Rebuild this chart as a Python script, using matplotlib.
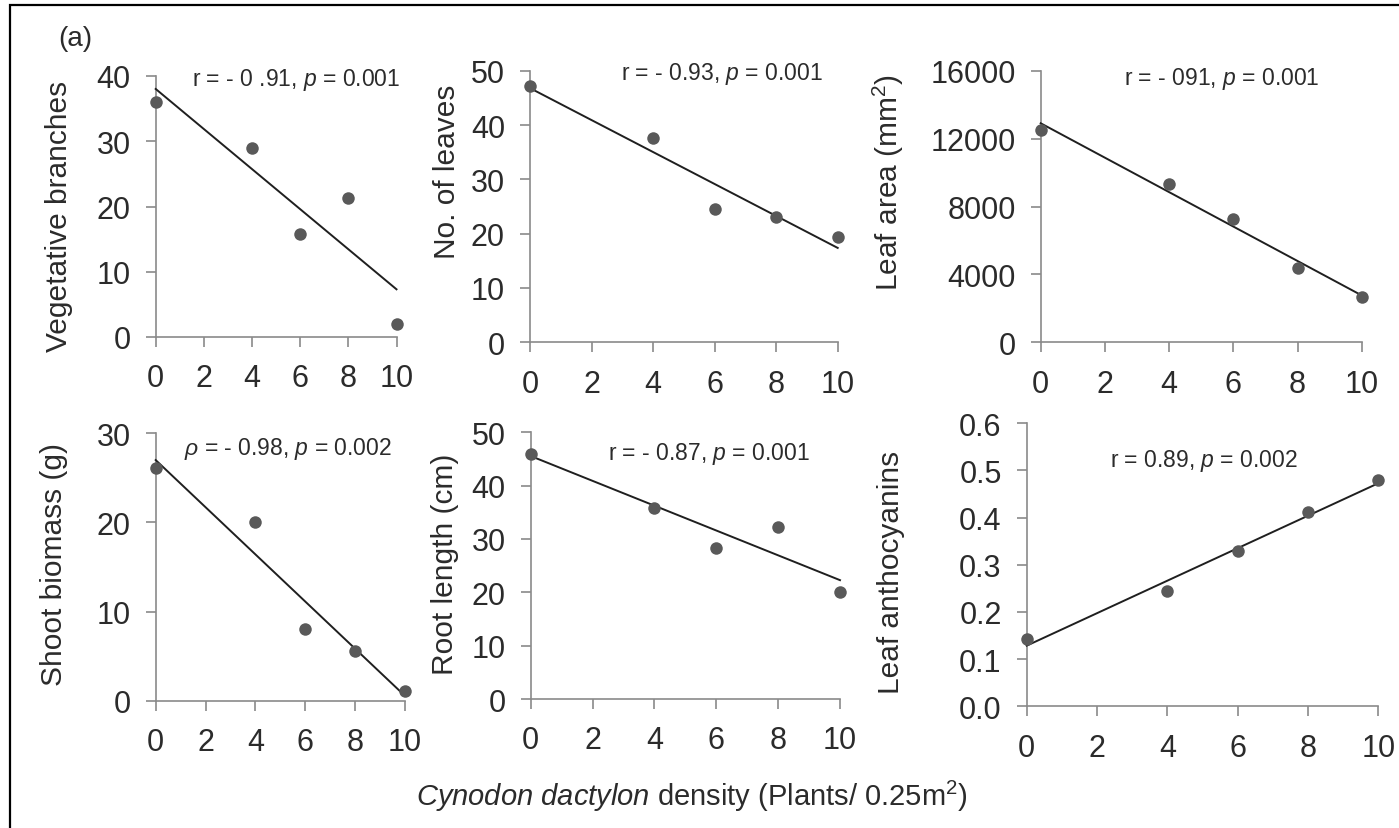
import numpy as np
import matplotlib
matplotlib.use("Agg")
import matplotlib.pyplot as plt
from matplotlib.patches import Rectangle

plt.rcParams['font.family'] = ['Liberation Sans', 'DejaVu Sans']
plt.rcParams['mathtext.fontset'] = 'custom'
plt.rcParams['mathtext.rm'] = 'Liberation Sans'
plt.rcParams['mathtext.it'] = 'Liberation Sans:italic'
plt.rcParams['mathtext.bf'] = 'Liberation Sans:bold'

# ---------------- data ----------------
density = [0, 4, 6, 8, 10]
x_ticks = [0, 2, 4, 6, 8, 10]

veg_branches = [36.0, 29.0, 15.8, 21.3, 2.0]
no_leaves = [47.1, 37.7, 24.5, 23.0, 19.3]
leaf_area = [12525, 9326, 7264, 4359, 2651]
shoot_biomass = [26.1, 20.0, 8.1, 5.6, 1.1]
root_length = [46.0, 35.9, 28.3, 32.3, 20.1]
leaf_anthocyanins = [0.143, 0.244, 0.329, 0.411, 0.480]

ylabels = ["Vegetative branches", "No. of leaves", "Leaf area (mm$^2$)",
           "Shoot biomass (g)", "Root length (cm)", "Leaf anthocyanins"]
stats = [r"r = - 0 .91, $\mathit{p}$ = 0.001",
         r"r = - 0.93, $\mathit{p}$ = 0.001",
         r"r = - 091, $\mathit{p}$ = 0.001",
         r"$\mathit{ρ}$ = - 0.98, $\mathit{p}$ = 0.002",
         r"r = - 0.87, $\mathit{p}$ = 0.001",
         r"r = 0.89, $\mathit{p}$ = 0.002"]
yticks_list = [[0, 10, 20, 30, 40],
               [0, 10, 20, 30, 40, 50],
               [0, 4000, 8000, 12000, 16000],
               [0, 10, 20, 30],
               [0, 10, 20, 30, 40, 50],
               [0.0, 0.1, 0.2, 0.3, 0.4, 0.5, 0.6]]
ytick_fmt = ["{:.0f}"] * 5 + ["{:.1f}"]
xlabel = r"$\mathit{Cynodon\ dactylon}$ density (Plants/ 0.25m$^2$)"
panel_tag = "(a)"

series = [veg_branches, no_leaves, leaf_area, shoot_biomass, root_length, leaf_anthocyanins]

# ---------------- layout (pixels) ----------------
W, H = 1399, 829
fig = plt.figure(figsize=(W / 100, H / 100), dpi=100)

# (left, right, top, bottom) in pixels
boxes = [(155.7, 396.5, 77.0, 338.0),
         (530.0, 837.7, 71.7, 343.3),
         (1040.7, 1361.7, 71.7, 343.3),
         (155.7, 405.0, 434.3, 701.7),
         (530.7, 840.0, 433.3, 700.0),
         (1026.7, 1378.3, 424.3, 707.3)]
ylab_pos = [(67, 216), (455, 172), (898, 182), (62, 564), (453, 564), (899, 572)]
stat_pos = [(296, 86), (722, 80), (1222, 85), (288, 455), (709, 460), (1204, 467)]

TXT = '#2b2b2b'
SPINE = '#8a8a8a'
MARK = '#595959'
LINE = '#1f1f1f'


def fx(px):
    return px / W


def fy(py):
    return 1 - py / H


for i, (l, r, t, b) in enumerate(boxes):
    ax = fig.add_axes([fx(l), fy(b), (r - l) / W, (b - t) / H])
    yt = yticks_list[i]
    y = np.array(series[i], dtype=float)
    x = np.array(density, dtype=float)
    coef = np.polyfit(x, y, 1)
    xl = np.array([x_ticks[0], x_ticks[-1]], dtype=float)
    ax.plot(xl, np.polyval(coef, xl), color=LINE, lw=1.4, zorder=3, clip_on=False)
    ax.plot(x, y, 'o', color=MARK, ms=9, mec='none', zorder=4, clip_on=False)
    ax.set_xlim(x_ticks[0], x_ticks[-1])
    ax.set_ylim(yt[0], yt[-1])
    ax.set_xticks(x_ticks)
    ax.set_yticks(yt)
    ax.set_yticklabels([ytick_fmt[i].format(v) for v in yt])
    for s in ['top', 'right']:
        ax.spines[s].set_visible(False)
    for s in ['left', 'bottom']:
        ax.spines[s].set_color(SPINE)
        ax.spines[s].set_linewidth(1.2)
    ax.tick_params(axis='both', direction='out', length=7, width=1.2, color=SPINE,
                   labelsize=22, labelcolor=TXT)
    ax.tick_params(axis='x', pad=12)
    ax.tick_params(axis='y', pad=11)
    ax.patch.set_alpha(0)

    fig.text(fx(ylab_pos[i][0]), fy(ylab_pos[i][1]), ylabels[i], rotation=90,
             rotation_mode='anchor', ha='center', va='baseline', fontsize=21.5, color=TXT)
    fig.text(fx(stat_pos[i][0]), fy(stat_pos[i][1]), stats[i], ha='center', va='baseline',
             fontsize=16.5, color=TXT)

fig.text(fx(692), fy(806), xlabel, ha='center', va='baseline', fontsize=21, color=TXT)
fig.text(fx(75), fy(39), panel_tag, ha='center', va='center', fontsize=20, color=TXT)

fig.add_artist(Rectangle((fx(10), -0.1), 1.2, fy(6) + 0.1, transform=fig.transFigure,
                         fill=False, ec='black', lw=1.6))

fig.savefig("out.png", dpi=100)
